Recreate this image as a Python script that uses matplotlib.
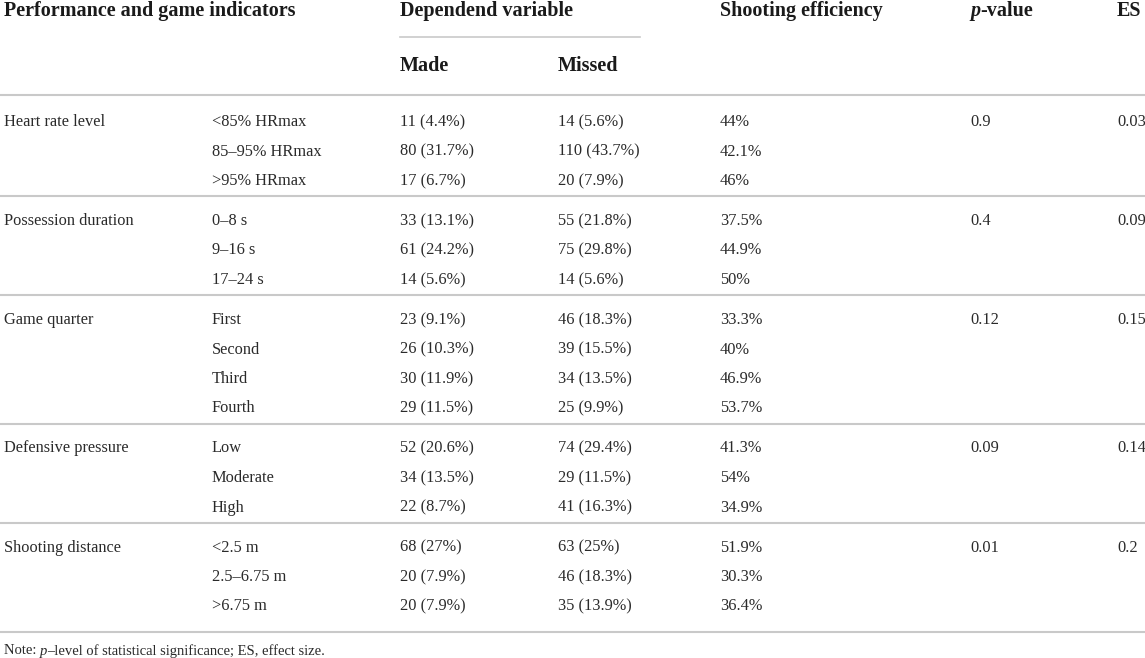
import matplotlib
matplotlib.use('Agg')
import matplotlib.pyplot as plt

plt.rcParams['font.family'] = ['Liberation Serif', 'DejaVu Serif']

# table content
groups = ['Heart rate level', 'Possession duration', 'Game quarter',
          'Defensive pressure', 'Shooting distance']
levels = [['<85% HRmax', '85–95% HRmax', '>95% HRmax'],
          ['0–8 s', '9–16 s', '17–24 s'],
          ['First', 'Second', 'Third', 'Fourth'],
          ['Low', 'Moderate', 'High'],
          ['<2.5 m', '2.5–6.75 m', '>6.75 m']]
made = [['11 (4.4%)', '80 (31.7%)', '17 (6.7%)'],
        ['33 (13.1%)', '61 (24.2%)', '14 (5.6%)'],
        ['23 (9.1%)', '26 (10.3%)', '30 (11.9%)', '29 (11.5%)'],
        ['52 (20.6%)', '34 (13.5%)', '22 (8.7%)'],
        ['68 (27%)', '20 (7.9%)', '20 (7.9%)']]
missed = [['14 (5.6%)', '110 (43.7%)', '20 (7.9%)'],
          ['55 (21.8%)', '75 (29.8%)', '14 (5.6%)'],
          ['46 (18.3%)', '39 (15.5%)', '34 (13.5%)', '25 (9.9%)'],
          ['74 (29.4%)', '29 (11.5%)', '41 (16.3%)'],
          ['63 (25%)', '46 (18.3%)', '35 (13.9%)']]
efficiency = [['44%', '42.1%', '46%'],
              ['37.5%', '44.9%', '50%'],
              ['33.3%', '40%', '46.9%', '53.7%'],
              ['41.3%', '54%', '34.9%'],
              ['51.9%', '30.3%', '36.4%']]
p_values = ['0.9', '0.4', '0.12', '0.09', '0.01']
effect_sizes = ['0.03', '0.09', '0.15', '0.14', '0.2']
note_parts = [('Note: ', 'normal'), ('p', 'italic'),
              ('–level of statistical significance; ES, effect size.', 'normal')]

W, H = 1145, 658
fig = plt.figure(figsize=(W / 100, H / 100), dpi=100)
ax = fig.add_axes([0, 0, 1, 1])
ax.set_xlim(0, W)
ax.set_ylim(H, 0)
ax.axis('off')
renderer = fig.canvas.get_renderer()


def text_run(x, y, parts, **kw):
    # write pieces one after the other, each starting where the last ended
    for s, style in parts:
        t = ax.text(x, y, s, fontstyle=style, **kw)
        bb = t.get_window_extent(renderer)
        x = ax.transData.inverted().transform((bb.x1, bb.y0))[0]


col_x = [4, 212, 400, 558, 720, 970, 1117]
body_fs = 11.8
head_fs = 14.5
body_c = '#2a2a2a'
line_c = '#c9c9c9'

# header
hkw = dict(fontsize=head_fs, fontweight='bold', color='#1a1a1a', va='center')
ax.text(col_x[0], 11, 'Performance and game indicators', **hkw)
ax.text(col_x[2], 11, 'Dependend variable', **hkw)
ax.text(col_x[4], 11, 'Shooting efficiency', **hkw)
text_run(col_x[5], 11, [('p', 'italic'), ('-value', 'normal')], **hkw)
ax.text(col_x[6], 11, 'ES', **hkw)
ax.plot([col_x[2], 640], [37, 37], color=line_c, lw=1.2)
ax.text(col_x[2], 66, 'Made', **hkw)
ax.text(col_x[3], 66, 'Missed', **hkw)
ax.plot([0, W], [95, 95], color=line_c, lw=1.5)

# body rows
bkw = dict(fontsize=body_fs, color=body_c, va='center')
y = 122
step = 29.5
for g in range(len(groups)):
    ax.text(col_x[0], y, groups[g], **bkw)
    ax.text(col_x[5], y, p_values[g], **bkw)
    ax.text(col_x[6], y, effect_sizes[g], **bkw)
    for i in range(len(levels[g])):
        yy = y + i * step
        ax.text(col_x[1], yy, levels[g][i], **bkw)
        ax.text(col_x[2], yy, made[g][i], **bkw)
        ax.text(col_x[3], yy, missed[g][i], **bkw)
        ax.text(col_x[4], yy, efficiency[g][i], **bkw)
    last = y + (len(levels[g]) - 1) * step
    ly = last + 15 if g < len(groups) - 1 else last + 25
    ax.plot([0, W], [ly, ly], color=line_c, lw=1.5)
    y = last + 40

text_run(col_x[0], 651, note_parts, fontsize=10.5, color=body_c, va='center')

fig.savefig('out.png', dpi=100)
